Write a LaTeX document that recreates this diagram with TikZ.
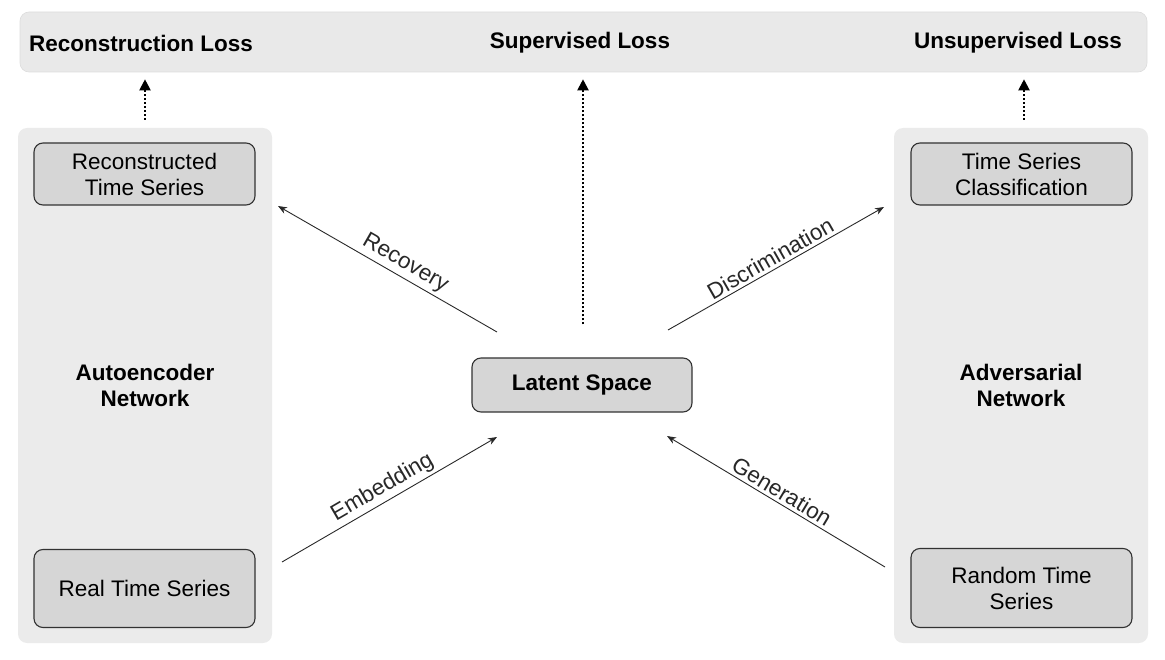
\documentclass[tikz,border=0pt]{standalone}
\usepackage{fontspec}
\setmainfont{Liberation Sans}
\usetikzlibrary{arrows.meta,positioning}
\definecolor{panelfill}{RGB}{235,235,235}
\definecolor{barfill}{RGB}{233,233,233}
\definecolor{barbdr}{RGB}{220,220,220}
\definecolor{boxfill}{RGB}{214,214,214}
\definecolor{boxbdr}{RGB}{50,50,50}
\definecolor{arrclr}{RGB}{40,40,40}
\tikzset{
  panel/.style={rectangle,rounded corners=9pt,fill=panelfill,draw=none,
    minimum width=254pt,minimum height=515pt,inner sep=0pt},
  lossbar/.style={rectangle,rounded corners=9pt,fill=barfill,draw=barbdr,
    line width=0.6pt,minimum width=1127pt,minimum height=60pt,inner sep=0pt},
  tsblk/.style={rectangle,rounded corners=9pt,draw=boxbdr,line width=1.1pt,
    fill=boxfill,minimum width=221pt,minimum height=62pt,
    font=\fontsize{22.5}{26}\selectfont,align=center,inner sep=2pt},
  hdr/.style={font=\fontsize{22.5}{26}\selectfont\bfseries,align=center,inner sep=0pt},
  lbl/.style={font=\fontsize{22.5}{26}\selectfont,sloped,above,inner sep=3pt},
  arr/.style={-{Stealth[length=9pt,width=7pt]},line width=0.9pt,color=arrclr},
  dotarr/.style={-{Triangle[length=11pt,width=11pt]},line width=2pt,dotted,color=black},
}
\begin{document}
\begin{tikzpicture}[x=1pt,y=-1pt]
  \useasboundingbox (0,0) rectangle (1165,660);

  %% Loss bar
  \node[lossbar] (bar) at (583.5,42) {};
  \node[hdr,anchor=west] (recloss) at (29,43) {Reconstruction Loss};
  \node[hdr] (suploss) at (580,43) {Supervised Loss};
  \node[hdr,anchor=east] (unsloss) at (1122,43) {Unsupervised Loss};

  %% Panels
  \node[panel] (lpanel) at (145,385.5) {};
  \node[panel] (rpanel) at (1021,385.5) {};
  \node[hdr] (aenet) at (lpanel) {Autoencoder\\Network};
  \node[hdr] (advnet) at (rpanel) {Adversarial\\Network};

  %% Blocks
  \node[tsblk] (recon) at (144.5,174) {Reconstructed\\Time Series};
  \node[tsblk,minimum height=78pt] (real) at (144.5,588.5) {Real Time Series};
  \node[tsblk] (classif) at (1021.5,174) {Time Series\\Classification};
  \node[tsblk,minimum height=79pt] (rand) at (1021.5,588) {Random Time\\Series};
  \node[tsblk,font=\fontsize{22.5}{26}\selectfont\bfseries,minimum width=220pt,
        minimum height=54pt] (latent) at (582,385) {Latent Space};

  %% Arrow ends
  \coordinate (recS) at (497,332);  \coordinate (recE) at (278,206);
  \coordinate (disS) at (668,330);  \coordinate (disE) at (884,207);
  \coordinate (embS) at (282,562);  \coordinate (embE) at (497,437);
  \coordinate (genS) at (885,567);  \coordinate (genE) at (667,436);

  \draw[arr] (recS) -- node[lbl,pos=0.45] {Recovery} (recE);
  \draw[arr] (disS) -- node[lbl,pos=0.5] {Discrimination} (disE);
  \draw[arr] (embS) -- node[lbl,pos=0.5] {Embedding} (embE);
  \draw[arr] (genS) -- node[lbl,pos=0.5] {Generation} (genE);

  %% Loss arrows
  \draw[dotarr,shorten <=8pt,shorten >=7pt] (lpanel.north) -- (lpanel.north |- bar.south);
  \draw[dotarr,shorten <=8pt,shorten >=7pt] ([xshift=3pt]rpanel.north) -- ([xshift=3pt]rpanel.north |- bar.south);
  \draw[dotarr,shorten <=33pt,shorten >=7pt] ([xshift=1pt]latent.north) -- ([xshift=1pt]latent.north |- bar.south);

\end{tikzpicture}
\end{document}
